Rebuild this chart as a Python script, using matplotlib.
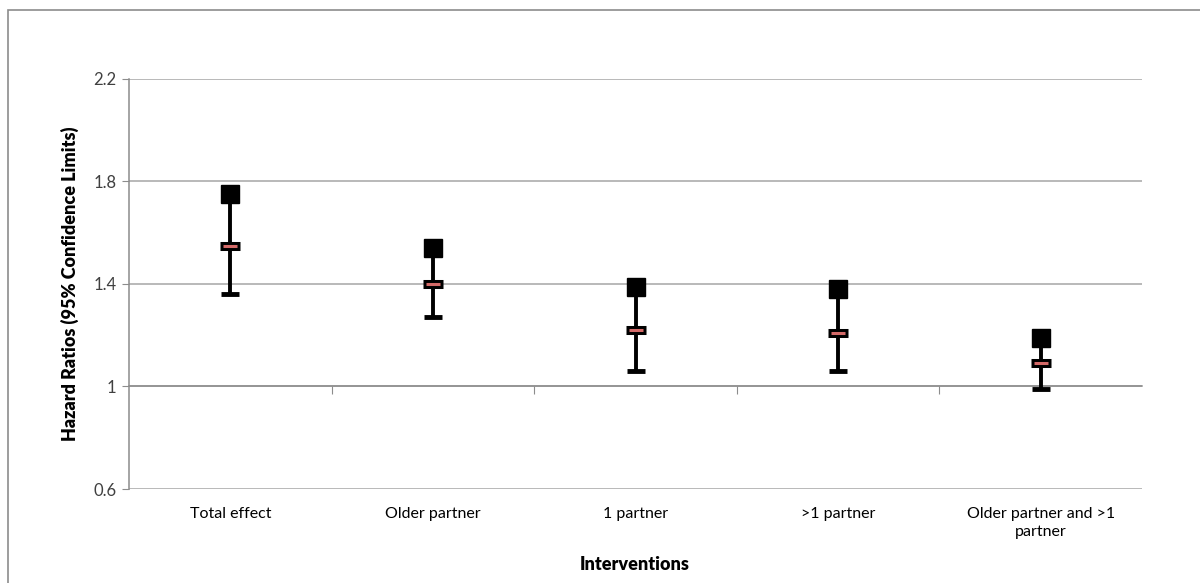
import matplotlib
matplotlib.use("Agg")
import matplotlib.pyplot as plt
from matplotlib.patches import Rectangle
import matplotlib.transforms as mtransforms

categories = ["Total effect", "Older partner", "1 partner", ">1 partner",
              "Older partner and >1\npartner"]
upper = [1.75, 1.54, 1.39, 1.38, 1.19]
estimate = [1.55, 1.40, 1.22, 1.21, 1.09]
lower = [1.36, 1.27, 1.06, 1.06, 0.99]
yticks = [0.6, 1.0, 1.4, 1.8, 2.2]
yticklabels = ["0.6", "1", "1.4", "1.8", "2.2"]

plt.rcParams['font.family'] = ['Lato', 'DejaVu Sans']

W, H = 1200, 583
fig = plt.figure(figsize=(W / 100, H / 100), dpi=100)
ax = fig.add_axes([129 / W, 1 - 489 / H, (1142 - 129) / W, (489 - 79) / H])

# outer border
fig.patches.append(Rectangle((8 / W, -0.05), 1.2, 1 - 10 / H + 0.05,
                             transform=fig.transFigure, fill=False,
                             edgecolor="#8c8c8c", linewidth=1.2, zorder=0))

n = len(categories)
x = list(range(n))
ax.set_xlim(-0.5, n - 0.5)
ax.set_ylim(0.6, 2.2)

for yv in yticks:
    ax.axhline(yv, color="#a6a6a6", linewidth=1.1, zorder=1)

# vertical ranges
ax.vlines(x, lower, upper, color="black", linewidth=2.8, zorder=3)
# lower caps
ax.plot(x, lower, linestyle="none", marker="_", markersize=13,
        markeredgewidth=3.5, color="black", zorder=4)
# estimate markers
ax.plot(x, estimate, linestyle="none", marker="_", markersize=14,
        markeredgewidth=6.5, color="black", zorder=5)
ax.plot(x, estimate, linestyle="none", marker="_", markersize=10,
        markeredgewidth=2.2, color="#d46a68", zorder=6)
# upper squares
ax.plot(x, upper, linestyle="none", marker="s", markersize=13,
        color="black", zorder=7)

# spines
for s in ["top", "right"]:
    ax.spines[s].set_visible(False)
ax.spines["left"].set_color("#8c8c8c")
ax.spines["left"].set_linewidth(1.1)
ax.spines["bottom"].set_position(("data", 1.0))
ax.spines["bottom"].set_color("#8c8c8c")
ax.spines["bottom"].set_linewidth(1.1)

ax.set_yticks(yticks)
ax.set_yticklabels(yticklabels, fontsize=12, color="#404040")
ax.tick_params(axis="y", direction="out", length=5, color="#8c8c8c", pad=4)
ax.set_xticks([i + 0.5 for i in range(n - 1)])
ax.set_xticklabels([])
ax.tick_params(axis="x", direction="out", length=6, color="#8c8c8c")

trans = mtransforms.blended_transform_factory(ax.transData, ax.transAxes)
for xi, lab in zip(x, categories):
    ax.text(xi, -0.045, lab, transform=trans, ha="center", va="top",
            fontsize=11.5, color="black", linespacing=1.3)

fig.text(70 / W, 1 - 284 / H, "Hazard Ratios (95% Confidence Limits)",
         rotation=90, ha="center", va="center", fontsize=13,
         fontweight="heavy", color="black")
fig.text(635 / W, 1 - 565 / H, "Interventions", ha="center", va="center",
         fontsize=13, fontweight="heavy", color="black")

fig.savefig("out.png", dpi=100)
